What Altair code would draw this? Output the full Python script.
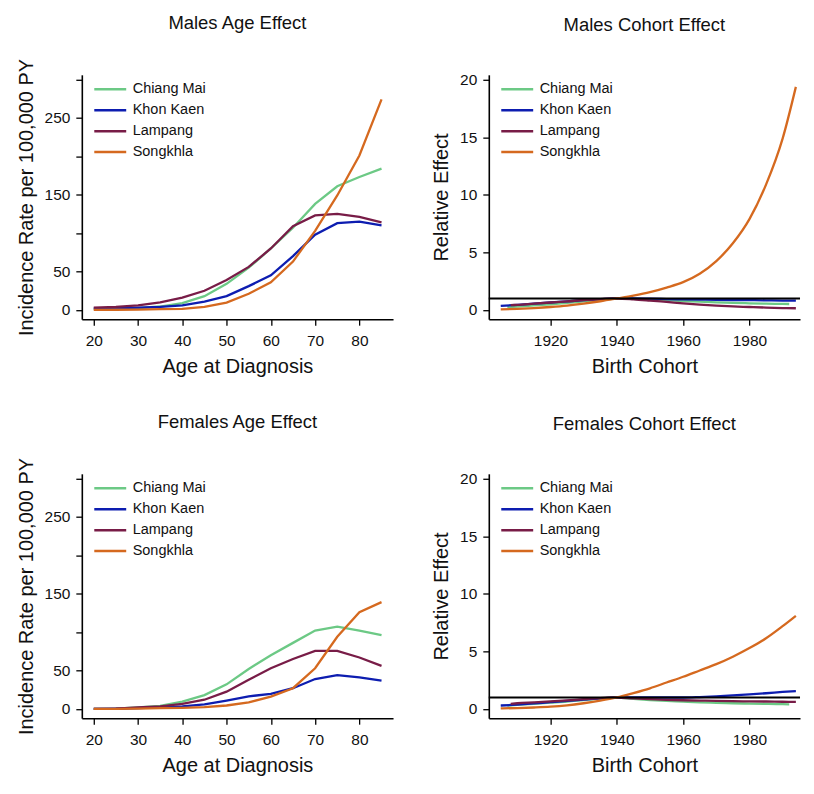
import altair as alt
import pandas as pd

REGIONS = ["Chiang Mai", "Khon Kaen", "Lampang", "Songkhla"]
COLORS = ["#6cc985", "#0d1db0", "#781c47", "#d5691f"]

# ---- Age effect (incidence per 100,000 PY) ----
AGES = [20, 25, 30, 35, 40, 45, 50, 55, 60, 65, 70, 75, 80, 85]
M_CM = [1, 1.5, 2.5, 4.5, 9, 18, 34, 55, 80, 107, 138, 161, 173, 184]
M_KK = [2, 2.5, 3, 4, 6, 11, 18, 31, 45, 70, 98, 113, 115, 110]
M_LP = [3, 4, 6, 10, 16, 25, 39, 56, 80, 109, 123, 125, 121, 114]
M_SK = [0, 0.3, 0.5, 1, 1.5, 4, 9.5, 21, 36, 63, 103, 149, 201, 274]

F_CM = [0, 0.5, 2, 4, 9.5, 18, 32, 52, 70, 86, 102, 107, 102, 96]
F_KK = [0, 0.3, 1, 2, 3.5, 6, 11, 16.5, 19.5, 27, 39, 44, 41, 37]
F_LP = [0, 0.5, 2, 3.5, 6.5, 12, 22.5, 38, 53, 65, 75.5, 75.5, 67, 56]
F_SK = [0, 0.2, 0.5, 1, 1.5, 2.5, 4.5, 8.5, 16, 27, 53, 94, 126, 139]

# ---- Cohort effect (relative) ----
YR_FULL = [1905, 1910, 1915, 1920, 1925, 1930, 1935, 1940, 1945, 1950,
           1955, 1960, 1965, 1970, 1975, 1980, 1985, 1990, 1994]
YR_LP = [1908, 1910, 1915, 1920, 1925, 1930, 1935, 1940, 1945, 1950,
         1955, 1960, 1965, 1970, 1975, 1980, 1985, 1990, 1994]
YR_CM = [1907, 1910, 1915, 1920, 1925, 1930, 1935, 1940, 1945, 1950,
         1955, 1960, 1965, 1970, 1975, 1980, 1985, 1990, 1992]

MC_CM = [0.25, 0.3, 0.4, 0.5, 0.62, 0.75, 0.88, 1.0, 0.97, 0.92,
         0.85, 0.78, 0.72, 0.67, 0.62, 0.58, 0.55, 0.53, 0.52]
MC_KK = [0.35, 0.45, 0.55, 0.65, 0.75, 0.85, 0.93, 1.0, 1.0, 0.98,
         0.95, 0.92, 0.9, 0.88, 0.87, 0.86, 0.84, 0.82, 0.81]
MC_LP = [0.42, 0.45, 0.55, 0.65, 0.75, 0.87, 0.95, 1.0, 0.93, 0.82,
         0.7, 0.58, 0.47, 0.38, 0.31, 0.26, 0.21, 0.17, 0.15]
MC_SK = [0.05, 0.1, 0.17, 0.26, 0.38, 0.55, 0.76, 1.0, 1.25, 1.55,
         1.95, 2.42, 3.15, 4.25, 5.8, 7.9, 10.9, 14.9, 19.4]

FC_CM = [0.3, 0.35, 0.45, 0.55, 0.65, 0.78, 0.9, 1.0, 0.88, 0.78,
         0.7, 0.64, 0.58, 0.54, 0.5, 0.47, 0.45, 0.42, 0.4]
FC_KK = [0.3, 0.38, 0.48, 0.6, 0.7, 0.82, 0.92, 1.0, 1.0, 1.0,
         1.0, 1.0, 1.04, 1.1, 1.18, 1.27, 1.37, 1.48, 1.56]
FC_LP = [0.45, 0.5, 0.58, 0.66, 0.75, 0.85, 0.94, 1.0, 0.92, 0.85,
         0.8, 0.76, 0.73, 0.7, 0.68, 0.66, 0.65, 0.63, 0.62]
FC_SK = [0.05, 0.08, 0.13, 0.2, 0.32, 0.5, 0.72, 1.0, 1.38, 1.8,
         2.3, 2.8, 3.35, 3.9, 4.55, 5.3, 6.15, 7.2, 8.1]

AGE_TICKS = [20, 30, 40, 50, 60, 70, 80]
AGE_YTICKS = [0, 50, 100, 150, 200, 250, 300]
COH_TICKS = [1920, 1940, 1960, 1980]
COH_YTICKS = [0, 5, 10, 15, 20]

FONT = "Liberation Sans"


def long_df(xs_list, ys_list):
    rows = []
    for i, (xs, ys) in enumerate(zip(xs_list, ys_list)):
        for x, y in zip(xs, ys):
            rows.append({"x": x, "y": y, "region": REGIONS[i], "k": i})
    return pd.DataFrame(rows)


def panel(df, title, xdom, ydom, xticks, yticks, xtitle, ytitle, toffset,
          label_expr=None, interp="linear", rule=False):
    yaxis_kw = dict(values=yticks, title=ytitle)
    if label_expr:
        yaxis_kw["labelExpr"] = label_expr
    lines = alt.Chart(df).mark_line(strokeWidth=2.3, interpolate=interp).encode(
        x=alt.X("x:Q", scale=alt.Scale(domain=xdom, nice=False, zero=False),
                axis=alt.Axis(values=xticks, title=xtitle, format="d")),
        y=alt.Y("y:Q", scale=alt.Scale(domain=ydom, nice=False, zero=False),
                axis=alt.Axis(**yaxis_kw)),
        color=alt.Color("region:N",
                        scale=alt.Scale(domain=REGIONS, range=COLORS),
                        legend=alt.Legend(title=None, orient="none",
                                          legendX=19, legendY=5, padding=0,
                                          symbolType="M-2,0H2",
                                          symbolSize=256,
                                          symbolStrokeWidth=2.5,
                                          labelFontSize=14.5, labelFont=FONT,
                                          labelColor="#111",
                                          labelOffset=13, rowPadding=5)),
        order="k:Q",
    )
    layers = [lines]
    if rule:
        rdf = pd.DataFrame({"v": [1]})
        layers.append(alt.Chart(rdf).mark_rule(color="black", strokeWidth=2).encode(
            y=alt.Y("v:Q")))
    ch = alt.layer(*layers).properties(
        width=312, height=245,
        title=alt.TitleParams(title, fontSize=18.5, font=FONT, fontWeight="normal",
                              anchor="middle", frame="group", offset=toffset,
                              color="#111"),
    )
    return ch


age_xdom = [17.3, 87.6]
age_ydom = [-12, 306]
coh_xdom = [1901.4, 1995.25]
coh_ydom = [-0.8, 20.45]
hide = "indexof([100,200,300], datum.value) >= 0 ? '' : datum.label"

p1 = panel(long_df([AGES] * 4, [M_CM, M_KK, M_LP, M_SK]), "Males Age Effect",
           age_xdom, age_ydom, AGE_TICKS, AGE_YTICKS, "Age at Diagnosis",
           "Incidence Rate per 100,000 PY", 26, label_expr=hide)
p2 = panel(long_df([YR_CM, YR_FULL, YR_LP, YR_FULL], [MC_CM, MC_KK, MC_LP, MC_SK]),
           "Males Cohort Effect", coh_xdom, coh_ydom, COH_TICKS, COH_YTICKS,
           "Birth Cohort", "Relative Effect", 39, interp="monotone", rule=True)
p3 = panel(long_df([AGES] * 4, [F_CM, F_KK, F_LP, F_SK]), "Females Age Effect",
           age_xdom, age_ydom, AGE_TICKS, AGE_YTICKS, "Age at Diagnosis",
           "Incidence Rate per 100,000 PY", 26, label_expr=hide)
p4 = panel(long_df([YR_CM, YR_FULL, YR_LP, YR_FULL], [FC_CM, FC_KK, FC_LP, FC_SK]),
           "Females Cohort Effect", coh_xdom, coh_ydom, COH_TICKS, COH_YTICKS,
           "Birth Cohort", "Relative Effect", 39, interp="monotone", rule=True)

chart = alt.concat(p1, p2, p3, p4, columns=2, spacing={"row": 36, "column": 38}).resolve_scale(
    color="independent").resolve_legend(color="independent").configure_view(
    strokeWidth=0).configure_axis(
    grid=False, domainColor="black", domainWidth=1.6, tickColor="black",
    tickWidth=1.3, tickSize=6, labelColor="#111", labelFont=FONT,
    labelFontSize=15.5, labelPadding=6, titleColor="#111", titleFont=FONT,
    titleFontSize=20, titleFontWeight="normal", titlePadding=8
).configure_axisX(labelPadding=8).properties(
    background="white", padding={"left": 8, "top": 5, "right": 5, "bottom": 5})

chart.save("out.html", embed_options={"renderer": "svg", "actions": False})
